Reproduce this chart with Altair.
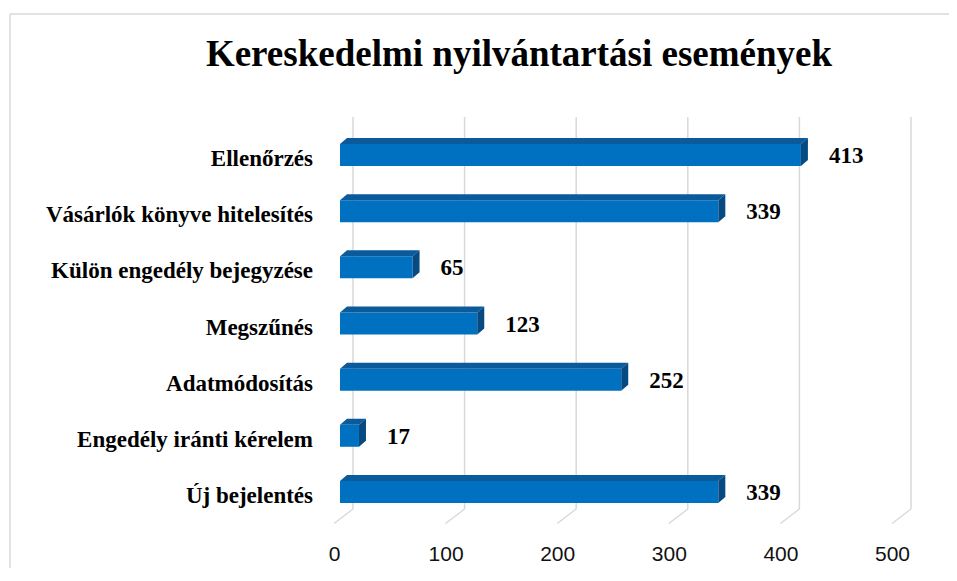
import altair as alt
import pandas as pd

# ---- data ----
categories = [
    "Ellenőrzés",
    "Vásárlók könyve hitelesítés",
    "Külön engedély bejegyzése",
    "Megszűnés",
    "Adatmódosítás",
    "Engedély iránti kérelem",
    "Új bejelentés",
]
values = [413, 339, 65, 123, 252, 17, 339]
tick_values = [0, 100, 200, 300, 400, 500]
title_text = "Kereskedelmi nyilvántartási események"

# ---- layout / style constants ----
W, H = 558, 393
X_MAX = 500
N = len(categories)
FRONT = "#0070C0"
TOP = "#0B5A9C"
SIDE = "#074A82"
GRID = "#D9D9D9"

px_x = X_MAX / W
px_y = N / H
half = 11 * px_y
DX = 7 * px_x
DY = 6 * px_y

bars = pd.DataFrame({"cat": categories, "value": values, "row": list(range(N))})
bars["yc"] = bars["row"] + 0.5
bars["y0"] = bars["yc"] - half
bars["y1"] = bars["yc"] + half

top_rows, side_rows = [], []
for c, v, y0, y1 in zip(bars["cat"], bars["value"], bars["y0"], bars["y1"]):
    top_rows += [
        {"cat": c, "x": 0.0, "lo": y0, "hi": y0},
        {"cat": c, "x": DX, "lo": y0 - DY, "hi": y0},
        {"cat": c, "x": float(v), "lo": y0 - DY, "hi": y0},
        {"cat": c, "x": v + DX, "lo": y0 - DY, "hi": y0 - DY},
    ]
    side_rows += [
        {"cat": c, "x": float(v), "lo": y0, "hi": y1},
        {"cat": c, "x": v + DX, "lo": y0 - DY, "hi": y1 - DY},
    ]
top_df = pd.DataFrame(top_rows)
side_df = pd.DataFrame(side_rows)
ticks = pd.DataFrame({"t": tick_values})
one = pd.DataFrame({"k": [0]})

xs = alt.Scale(domain=[0, X_MAX], nice=False, zero=False)
ys = alt.Scale(domain=[0, N], nice=False, zero=False, reverse=True)

border_top = alt.Chart(one).mark_rule(color=GRID, strokeWidth=1.5).encode(
    x=alt.value(-330), x2=alt.value(609), y=alt.value(-113)
)
border_left = alt.Chart(one).mark_rule(color=GRID, strokeWidth=1.5).encode(
    x=alt.value(-330), y=alt.value(-113), y2=alt.value(441)
)

grid = alt.Chart(ticks).mark_rule(color=GRID, strokeWidth=1.5, xOffset=13).encode(
    x=alt.X("t:Q", scale=xs, axis=None), y=alt.value(-10), y2=alt.value(382)
)
slant = alt.Chart(ticks).mark_rule(
    color=GRID, strokeWidth=1.5, xOffset=13, x2Offset=-6
).encode(
    x=alt.X("t:Q", scale=xs, axis=None), x2="t:Q", y=alt.value(382), y2=alt.value(396.5)
)

front = alt.Chart(bars).mark_rect(color=FRONT).encode(
    x=alt.X("zero:Q", scale=xs, axis=None),
    x2="value:Q",
    y=alt.Y("y0:Q", scale=ys, axis=None),
    y2="y1:Q",
).transform_calculate(zero="0")

top = alt.Chart(top_df).mark_area(orient="vertical", color=TOP).encode(
    x=alt.X("x:Q", scale=xs, axis=None),
    y=alt.Y("lo:Q", scale=ys, axis=None),
    y2="hi:Q",
    detail="cat:N",
)
side = alt.Chart(side_df).mark_area(orient="vertical", color=SIDE).encode(
    x=alt.X("x:Q", scale=xs, axis=None),
    y=alt.Y("lo:Q", scale=ys, axis=None),
    y2="hi:Q",
    detail="cat:N",
)

cat_labels = alt.Chart(bars).mark_text(
    align="right", baseline="alphabetic", dy=11,
    font="Liberation Serif", fontWeight="bold", fontSize=23, color="#000000",
).encode(x=alt.value(-27), y=alt.Y("yc:Q", scale=ys, axis=None), text="cat:N")

val_labels = alt.Chart(bars).mark_text(
    align="left", baseline="alphabetic", dx=28, dy=8,
    font="Liberation Serif", fontWeight="bold", fontSize=23, color="#000000",
).encode(
    x=alt.X("value:Q", scale=xs, axis=None),
    y=alt.Y("yc:Q", scale=ys, axis=None),
    text="value:Q",
)

tick_labels = alt.Chart(ticks).mark_text(
    align="center", baseline="alphabetic", dx=-5.5,
    font="Liberation Sans", fontSize=21, color="#111111",
).encode(x=alt.X("t:Q", scale=xs, axis=None), y=alt.value(434), text="t:Q")

title = alt.Chart(one).mark_text(
    align="center", baseline="alphabetic",
    font="Liberation Serif", fontWeight="bold", fontSize=37, color="#000000",
).encode(x=alt.value(179), y=alt.value(-61), text=alt.value(title_text))

chart = alt.layer(
    border_top, border_left, grid, slant, front, top, side,
    cat_labels, val_labels, tick_labels, title
).properties(
    width=W,
    height=H,
    autosize=alt.AutoSizeParams(type="none"),
    padding={"left": 332, "top": 119, "right": 51, "bottom": 48},
    background="transparent",
).configure_view(stroke=None)

chart.save("out.html", embed_options={"renderer": "svg", "actions": False})
